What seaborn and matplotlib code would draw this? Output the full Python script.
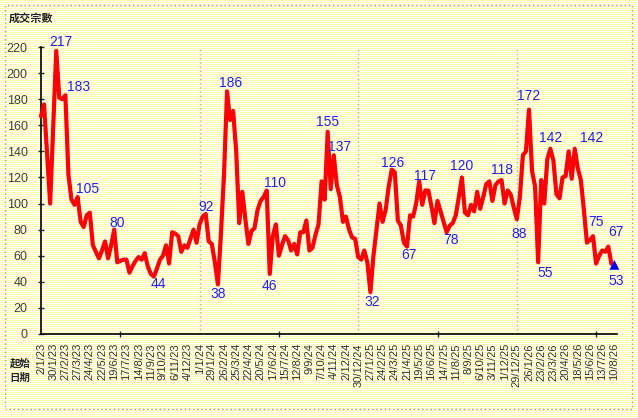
import numpy as np
import matplotlib
matplotlib.use("Agg")
import matplotlib.pyplot as plt
from matplotlib.patches import Rectangle
from matplotlib.ticker import FixedLocator
import seaborn as sns

# 每週成交宗數 (2/1/23 起，每週一筆)
values = [
    167, 176, 138, 100, 158, 217, 181, 180, 183, 122,
    103, 99, 105, 86, 82, 91, 93, 68, 63, 58,
    64, 71, 58, 68, 80, 55, 56, 57, 57, 47,
    52, 56, 59, 57, 62, 52, 46, 44, 50, 57,
    60, 68, 54, 78, 77, 75, 63, 68, 66, 73,
    80, 70, 84, 90, 92, 71, 69, 55, 38, 77,
    122, 186, 164, 171, 140, 85, 109, 88, 69, 79,
    81, 95, 102, 105, 110, 46, 75, 84, 60, 68,
    75, 72, 64, 69, 61, 78, 78, 87, 64, 66,
    76, 84, 117, 103, 155, 111, 137, 114, 105, 86,
    90, 80, 74, 73, 59, 57, 64, 55, 32, 60,
    80, 100, 86, 95, 113, 126, 124, 87, 83, 70,
    67, 91, 90, 100, 117, 99, 110, 110, 98, 85,
    102, 94, 86, 78, 83, 85, 91, 105, 120, 93,
    91, 99, 94, 109, 96, 105, 115, 117, 102, 114,
    117, 118, 100, 110, 107, 97, 88, 105, 137, 140,
    172, 125, 113, 55, 118, 100, 134, 142, 133, 107,
    104, 120, 121, 140, 119, 142, 127, 118, 95, 70,
    72, 75, 54, 60, 64, 63, 67, 54, 53,
]
weeks = np.arange(len(values))

tick_labels = [
    "2/1/23", "30/1/23", "27/2/23", "27/3/23", "24/4/23", "22/5/23",
    "19/6/23", "17/7/23", "14/8/23", "11/9/23", "9/10/23", "6/11/23",
    "4/12/23", "1/1/24", "29/1/24", "26/2/24", "25/3/24", "22/4/24",
    "20/5/24", "17/6/24", "15/7/24", "12/8/24", "9/9/24", "7/10/24",
    "4/11/24", "2/12/24", "30/12/24", "27/1/25", "24/2/25", "24/3/25",
    "21/4/25", "19/5/25", "16/6/25", "14/7/25", "11/8/25", "8/9/25",
    "6/10/25", "3/11/25", "1/12/25", "29/12/25", "26/1/26", "23/2/26",
    "23/3/26", "20/4/26", "18/5/26", "15/6/26", "13/7/26", "10/8/26",
]
year_starts = [52, 104, 156]

# 標註的週次
ann_weeks = [5, 8, 12, 24, 37, 54, 58, 61, 74, 75, 94, 96, 108, 115, 120,
             124, 133, 138, 151, 156, 160, 163, 167, 175, 181, 186, 188]
# 標註文字位移 (像素, 向下為正)
ann_offsets = [(5, -9), (13, -8), (10, -8), (3, -7), (5, 7), (0, -7), (0, 10),
               (4, -8), (8, -8), (0, 12), (0, -10), (6, -8), (2, 10), (1, -7),
               (2, 8), (6, -5), (4, 8), (0, -11), (0, -10), (2, 15), (0, -14),
               (7, 11), (0, -11), (17, -11), (3, -14), (8, -15), (2, 16)]

sns.set_style("ticks")
plt.rcParams["font.family"] = ["Liberation Sans", "Noto Sans CJK TC", "DejaVu Sans"]

fig = plt.figure(figsize=(6.38, 4.18), dpi=100)

# 黃白間條背景
h, w = 418, 638
stripes = np.ones((h, w, 3))
stripes[::2] = np.array([255, 255, 175]) / 255
fig.figimage(stripes, xo=0, yo=0, zorder=-10)
fig.patch.set_facecolor("white")

fig.patches.append(Rectangle((5 / w, 9 / h), 627 / w, 404 / h, transform=fig.transFigure,
                             fill=False, ec="#999999", ls=(0, (1, 2)), lw=1))

ax = fig.add_axes([41 / w, 84 / h, 576 / w, 287 / h])
ax.set_facecolor("none")

sns.lineplot(x=weeks, y=values, color="#ff0000", lw=3, ax=ax, clip_on=False, zorder=3)
sns.scatterplot(x=[weeks[-1]], y=[values[-1]], marker="^", s=50, color="#0000ff",
                edgecolor="none", ax=ax, zorder=4, clip_on=False)

for x0 in year_starts:
    ax.axvline(x0, color="#aaaaaa", ls=(0, (1, 2)), lw=1, zorder=1)

for i, (dx, dy) in zip(ann_weeks, ann_offsets):
    ax.annotate(str(values[i]), (weeks[i], values[i]), xytext=(dx, -dy),
                textcoords="offset pixels", ha="center", va="center",
                fontsize=10, color="#1f1fff", zorder=5)

ax.set_xlim(0, 576 / 3.05)
ax.set_ylim(0, 220)
ax.set_yticks(range(0, 221, 20))
ax.set_xticks(weeks[::4])
ax.set_xticklabels(tick_labels, rotation=90, fontsize=8, color="#333333")
ax.xaxis.set_minor_locator(FixedLocator(range(0, 189, 26)))
ax.tick_params(axis="x", which="major", length=0, pad=6.5)
ax.tick_params(axis="x", which="minor", length=5, direction="inout", width=1)
ax.tick_params(axis="y", length=5, direction="inout", width=1, pad=7,
               labelsize=9, labelcolor="#404040")
ax.set_xlabel("")
ax.set_ylabel("")
sns.despine(ax=ax)
for s in ["left", "bottom"]:
    ax.spines[s].set_color("black")
    ax.spines[s].set_linewidth(1.2)

fig.text(9 / w, 1 - 18 / h, "成交宗數", fontsize=8, fontweight="bold",
         ha="left", va="center", family=["Noto Sans CJK TC"])
fig.text(20 / w, 1 - 363 / h, "起始", fontsize=7.5, fontweight="bold",
         ha="center", va="center", family=["Noto Sans CJK TC"])
fig.text(20 / w, 1 - 378 / h, "日期", fontsize=7.5, fontweight="bold",
         ha="center", va="center", family=["Noto Sans CJK TC"])

fig.savefig("out.png", dpi=100)
